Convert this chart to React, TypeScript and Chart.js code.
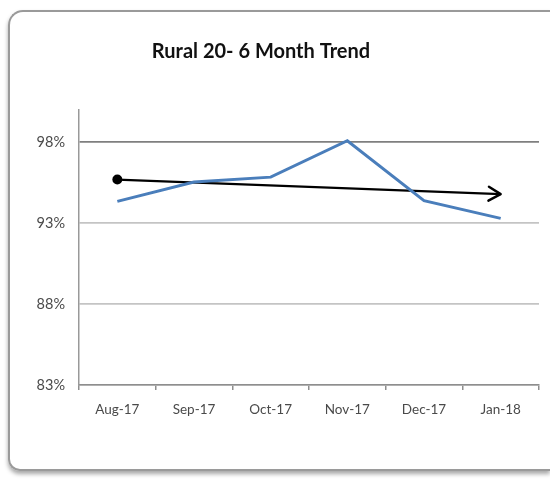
import React, { useEffect, useRef } from "react";
import { Chart, registerables } from "chart.js";

Chart.register(...registerables);

const titleText = "Rural 20- 6 Month Trend";
const months = ["Aug-17", "Sep-17", "Oct-17", "Nov-17", "Dec-17", "Jan-18"];
const ruralValues = [94.35, 95.55, 95.85, 98.1, 94.4, 93.3];
const trendValues = [95.7, null, null, null, null, 94.8];
const yTicks = [83, 88, 93, 98];
const targetLine = 98;

const titlePlugin = {
  id: "customTitle",
  afterDraw(chart: any) {
    const ctx = chart.ctx;
    ctx.save();
    ctx.font = "bold 20px Lato, 'Liberation Sans', sans-serif";
    ctx.fillStyle = "#111111";
    ctx.textAlign = "center";
    ctx.textBaseline = "middle";
    ctx.fillText(titleText, 261, 52);
    ctx.restore();
  },
};

const arrowPlugin = {
  id: "trendArrow",
  afterDatasetsDraw(chart: any) {
    const meta = chart.getDatasetMeta(1);
    const pts = meta.data;
    const a = pts[0];
    const b = pts[pts.length - 1];
    if (!a || !b) return;
    const ang = Math.atan2(b.y - a.y, b.x - a.x);
    const len = 12;
    const half = 7;
    const ctx = chart.ctx;
    ctx.save();
    ctx.strokeStyle = "#000000";
    ctx.lineWidth = 2.4;
    ctx.lineCap = "round";
    ctx.lineJoin = "round";
    ctx.beginPath();
    const bx = b.x - len * Math.cos(ang);
    const by = b.y - len * Math.sin(ang);
    const nx = -Math.sin(ang) * half;
    const ny = Math.cos(ang) * half;
    ctx.moveTo(bx + nx, by + ny);
    ctx.lineTo(b.x, b.y);
    ctx.lineTo(bx - nx, by - ny);
    ctx.stroke();
    ctx.restore();
  },
};

export default function App() {
  const ref = useRef<HTMLCanvasElement | null>(null);

  useEffect(() => {
    document.body.style.overflow = "hidden";
    const canvas = ref.current;
    if (!canvas) return;
    const chart = new Chart(canvas, {
      type: "line",
      data: {
        labels: months,
        datasets: [
          {
            label: "Rural 20",
            data: ruralValues,
            borderColor: "#4a7ebb",
            borderWidth: 3,
            pointRadius: 0,
            tension: 0,
            fill: false,
          },
          {
            label: "Trend",
            data: trendValues,
            borderColor: "#000000",
            backgroundColor: "#000000",
            borderWidth: 2.2,
            spanGaps: true,
            pointRadius: [5, 0, 0, 0, 0, 0],
            pointBorderWidth: 0,
            tension: 0,
            fill: false,
          },
        ],
      },
      options: {
        responsive: false,
        animation: false,
        events: [],
        layout: { padding: { left: 0, top: 110, right: 11, bottom: 0 } },
        plugins: {
          legend: { display: false },
          title: { display: false },
          tooltip: { enabled: false },
        },
        scales: {
          x: {
            offset: true,
            grid: {
              offset: true,
              drawOnChartArea: false,
              drawTicks: true,
              tickLength: 5,
              color: "#8e8e8e",
              lineWidth: 1.5,
            },
            border: { display: true, color: "#8e8e8e", width: 1.5 },
            ticks: {
              color: "#4a4a4a",
              padding: 12,
              font: { family: "Lato, 'Liberation Sans', sans-serif", size: 13.5 },
              maxRotation: 0,
            },
            afterFit(scale: any) {
              scale.height = 94;
            },
          },
          y: {
            min: 83,
            max: 100,
            ticks: {
              stepSize: 5,
              color: "#4a4a4a",
              padding: 14,
              font: { family: "Lato, 'Liberation Sans', sans-serif", size: 14.5 },
              callback: (v: any) => v + "%",
            },
            afterBuildTicks(scale: any) {
              scale.ticks = yTicks.map((v) => ({ value: v }));
            },
            grid: {
              drawTicks: false,
              color: (c: any) =>
                c.tick && c.tick.value === targetLine ? "#7f7f7f" : "#c4c4c4",
              lineWidth: 1.8,
            },
            border: { display: true, color: "#999999", width: 1.5 },
            afterFit(scale: any) {
              scale.width = 79;
            },
          },
        },
      },
      plugins: [titlePlugin, arrowPlugin],
    } as any);
    return () => chart.destroy();
  }, []);

  return (
    <div style={{ position: "fixed", left: 0, top: 0, width: 550, height: 479, background: "#ffffff" }}>
      <div
        style={{
          position: "absolute",
          left: 8,
          top: 10,
          width: 542,
          height: 461,
          border: "2px solid #9a9a9a",
          borderRight: "none",
          borderRadius: "15px 0 0 12px",
          boxShadow: "0 3px 4px rgba(0,0,0,0.35)",
          boxSizing: "border-box",
        }}
      />
      <canvas
        ref={ref}
        width={550}
        height={479}
        style={{ position: "absolute", left: 0, top: 0, width: 550, height: 479 }}
      />
    </div>
  );
}
